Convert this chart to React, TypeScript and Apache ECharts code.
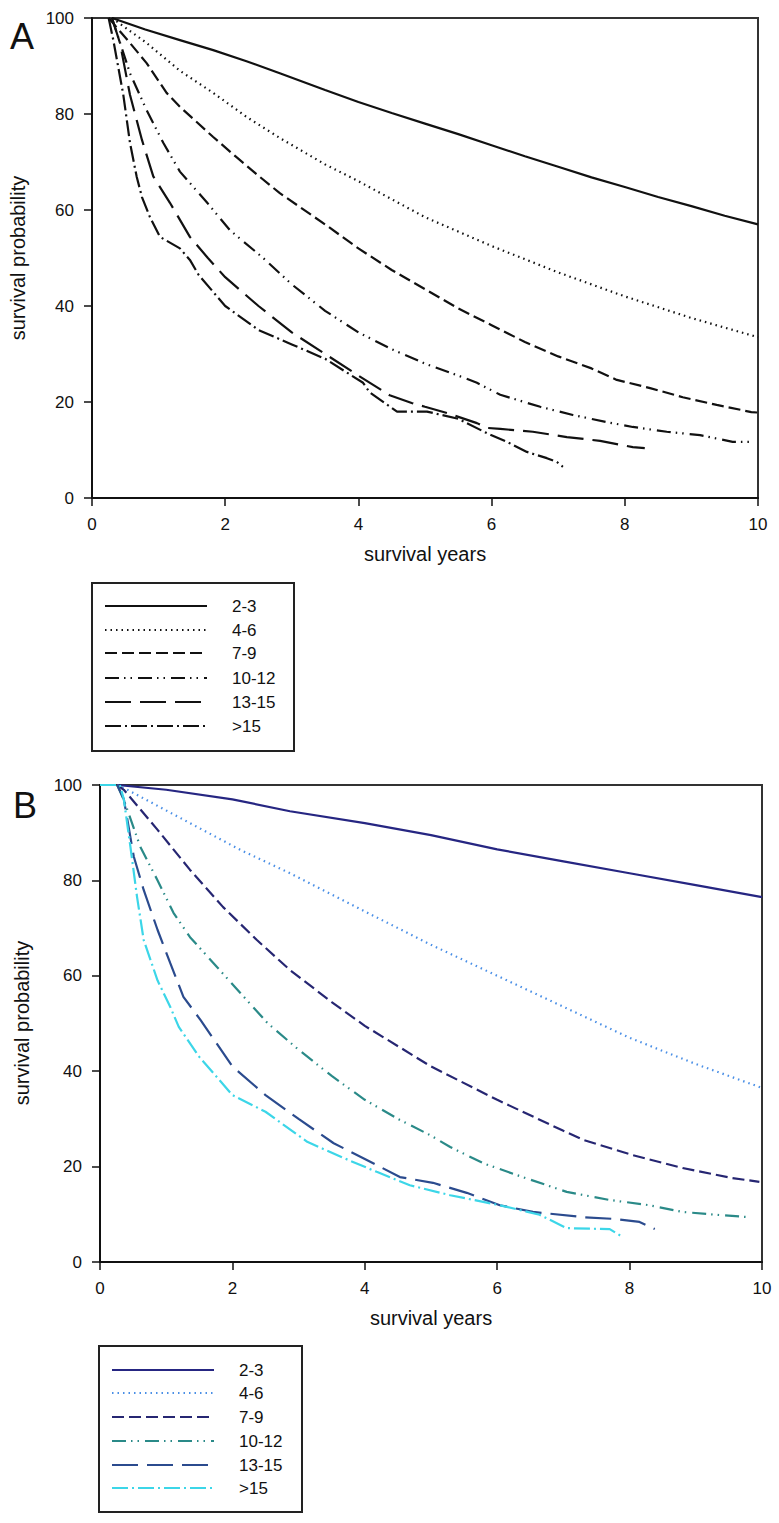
import React, { useEffect, useRef } from "react";
import * as echarts from "echarts";

const groupNames = ["2-3", "4-6", "7-9", "10-12", "13-15", ">15"];
const xTickInterval = 2;
const yTickInterval = 20;

// Panel A (years, survival %)
const a23 = [[0.3,100],[0.8,97.6],[1.32,95.4],[1.82,93.3],[2.32,91],[2.82,88.5],[3.5,85],[4,82.5],[4.5,80.2],[5,78],[5.5,75.8],[6,73.5],[6.5,71.2],[7,69],[7.5,66.8],[8,64.8],[8.5,62.7],[9,60.8],[9.5,58.8],[10,57]];
const a46 = [[0.3,100],[0.82,94.8],[1.32,89],[1.82,84.4],[2.32,79.4],[2.82,75],[3.5,69.5],[4,66],[5,58.5],[6,52.5],[7,47],[8,42],[9,37.5],[10,33.5]];
const a79 = [[0.25,100],[0.57,94.8],[0.82,90.6],[1.12,84.4],[1.32,81.5],[1.82,75.2],[2.17,71],[2.52,66.9],[2.82,63.5],[3.5,57],[4,52],[4.5,47.5],[5,43.5],[5.5,39.5],[6,36],[6.5,32.5],[7,29.5],[7.5,27],[7.88,24.6],[8.38,22.9],[8.87,21],[9.38,19.4],[9.9,17.9],[10,17.8]];
const a1012 = [[0.3,100],[0.57,88.5],[0.82,80.8],[1.07,74],[1.32,68],[1.73,61.5],[2.07,55.8],[2.57,50],[3,44.5],[3.5,39],[4,34.5],[4.5,31],[5,28],[5.5,25.5],[5.78,24],[6.13,21.5],[6.73,19],[7.22,17.3],[7.73,15.8],[8.12,14.8],[8.63,13.8],[9.13,13.1],[9.62,11.7],[9.9,11.7]];
const a1315 = [[0.3,100],[0.42,94.8],[0.57,84],[0.75,74.6],[0.92,67],[1.17,61.5],[1.47,54.4],[1.74,50],[2,46],[2.5,40],[3,34.5],[3.5,30],[4,25.5],[4.47,21.4],[4.8,19.8],[5,19],[5.33,17.7],[5.78,15.6],[5.93,14.6],[6.13,14.4],[6.62,13.8],[7.13,12.7],[7.63,11.9],[8.12,10.6],[8.3,10.4]];
const a15 = [[0.25,100],[0.32,95.4],[0.47,84],[0.57,74],[0.67,67],[0.75,62.7],[0.87,58.5],[1.02,54.4],[1.32,52],[1.47,49.6],[1.6,46.5],[2,40],[2.5,35],[3,32],[3.5,29],[4.07,24],[4.17,22],[4.58,18],[5.03,18],[5.5,16.5],[5.93,13.5],[6.23,11.7],[6.53,9.6],[6.83,8.3],[6.98,7.5],[7.07,6.5]];

// Panel B
const b23 = [[0.26,100],[1,99],[2,97],[2.87,94.5],[4,92],[5,89.5],[6,86.5],[7,84],[8,81.5],[9,79],[10,76.5]];
const b46 = [[0.26,100],[0.36,99.4],[1.36,92],[2.12,86.4],[2.87,81.5],[4,73.5],[5,66.5],[6,60],[7,53.5],[8,47],[9,41.5],[10,36.5]];
const b79 = [[0.26,100],[0.36,99],[0.87,90.6],[1.36,82.2],[1.86,74.4],[2.37,67.5],[2.87,61.2],[3.5,54.5],[4,49.5],[5,41],[6,34],[7,27.5],[7.3,25.6],[8.05,22.4],[8.8,19.7],[9.55,17.6],[9.96,16.8]];
const b1012 = [[0.26,100],[0.36,96.9],[0.61,87],[0.87,80],[1.11,73.2],[1.36,68.1],[1.77,61.8],[2.12,56.4],[2.53,50.1],[3,44.5],[3.5,39],[4,34],[4.5,30],[5,26.5],[5.29,24.1],[5.79,20.7],[6.3,18.2],[7.05,14.7],[7.7,13],[8.3,11.9],[8.8,10.5],[9.3,9.9],[9.8,9.4]];
const b1315 = [[0.26,100],[0.36,97],[0.51,85],[0.66,78],[0.87,69.6],[1.06,62.7],[1.26,55.6],[1.52,50.7],[2,41],[2.5,35],[3,30],[3.53,24.9],[4.03,21.4],[4.53,17.8],[5.03,16.6],[5.54,14.5],[6.04,11.9],[6.54,10.5],[7.3,9.4],[7.8,9],[8.15,8.4],[8.38,6.9]];
const b15 = [[0,100],[0.3,100],[0.36,97],[0.46,87],[0.56,76.5],[0.66,67.5],[0.87,59],[1.06,53.5],[1.19,49.3],[1.5,43],[2,35],[2.5,31.5],[3.13,25.2],[3.68,21.8],[4.18,18.9],[4.68,16.1],[5.29,14],[6.04,11.9],[6.64,9.9],[7.05,7.1],[7.7,6.9],[7.9,5.2]];

const dashes: any[] = ["solid", [1.5, 4], [12, 5], [14, 5, 1.5, 5, 1.5, 6], [26, 9], [16, 4, 2, 4]];
const colorsA = ["#111", "#111", "#111", "#111", "#111", "#111"];
const colorsB = ["#262682", "#4a8fe6", "#262672", "#2a8a88", "#2b4b8e", "#3cd6e8"];

const FONT = "'Liberation Sans', Arial, sans-serif";

export default function App() {
  const ref = useRef<HTMLDivElement>(null);
  useEffect(() => {
    document.body.style.margin = "0";
    const chart = echarts.init(ref.current!, null, { renderer: "svg" });
    const dataA = [a23, a46, a79, a1012, a1315, a15];
    const dataB = [b23, b46, b79, b1012, b1315, b15];

    const mkX = (gi: number) => ({
      type: "value", gridIndex: gi, min: 0, max: 10, interval: xTickInterval,
      axisLine: { show: true, onZero: false, lineStyle: { color: "#111", width: 2 } },
      axisTick: { show: true, inside: false, length: 8, lineStyle: { color: "#111", width: 1.5 } },
      axisLabel: { fontSize: 17, color: "#111", margin: 18, fontFamily: FONT },
      splitLine: { show: false },
    });
    const mkY = (gi: number) => ({
      type: "value", gridIndex: gi, min: 0, max: 100, interval: yTickInterval,
      axisLine: { show: true, onZero: false, lineStyle: { color: "#111", width: 2 } },
      axisTick: { show: true, inside: false, length: 8, lineStyle: { color: "#111", width: 1.5 } },
      axisLabel: { fontSize: 17, color: "#111", margin: 18, fontFamily: FONT },
      splitLine: { show: false },
    });

    const series: any[] = [];
    dataA.forEach((d, i) => series.push({
      type: "line", name: "A " + groupNames[i], xAxisIndex: 0, yAxisIndex: 0, data: d,
      symbol: "none", showSymbol: false, silent: true,
      lineStyle: { color: colorsA[i], width: 2.2, type: dashes[i] },
    }));
    dataB.forEach((d, i) => series.push({
      type: "line", name: "B " + groupNames[i], xAxisIndex: 1, yAxisIndex: 1, data: d,
      symbol: "none", showSymbol: false, silent: true,
      lineStyle: { color: colorsB[i], width: 2.2, type: dashes[i] },
    }));

    const legend = (bx: number, by: number, bw: number, bh: number, rows: number[], lx1: number, lx2: number, tx: number, colors: string[]) => {
      const els: any[] = [{
        type: "rect", shape: { x: bx, y: by, width: bw, height: bh },
        style: { fill: "none", stroke: "#222", lineWidth: 2 },
      }];
      groupNames.forEach((n, i) => {
        els.push({
          type: "line", shape: { x1: lx1, y1: rows[i], x2: lx2, y2: rows[i] },
          style: { stroke: colors[i], lineWidth: 2.2, lineDash: dashes[i] === "solid" ? null : dashes[i] },
        });
        els.push({
          type: "text", x: tx, y: rows[i],
          style: { text: n, fontSize: 17, fill: "#111", fontFamily: FONT, align: "left", verticalAlign: "middle" },
        });
      });
      return els;
    };

    const graphic: any[] = [
      { type: "text", x: 10, y: 36, style: { text: "A", fontSize: 36, fill: "#111", fontFamily: FONT, verticalAlign: "middle" } },
      { type: "text", x: 13, y: 805, style: { text: "B", fontSize: 36, fill: "#111", fontFamily: FONT, verticalAlign: "middle" } },
      { type: "text", x: 425, y: 554, style: { text: "survival years", fontSize: 20, fill: "#111", fontFamily: FONT, align: "center", verticalAlign: "middle" } },
      { type: "text", x: 431, y: 1318, style: { text: "survival years", fontSize: 20, fill: "#111", fontFamily: FONT, align: "center", verticalAlign: "middle" } },
      { type: "text", x: 18, y: 258, rotation: Math.PI / 2, style: { text: "survival probability", fontSize: 20, fill: "#111", fontFamily: FONT, align: "center", verticalAlign: "middle" } },
      { type: "text", x: 22, y: 1023, rotation: Math.PI / 2, style: { text: "survival probability", fontSize: 20, fill: "#111", fontFamily: FONT, align: "center", verticalAlign: "middle" } },
      ...legend(92, 583, 202, 168, [606, 630, 653, 678, 702, 726], 105, 207, 232, colorsA),
      ...legend(99, 1346, 203, 166, [1370, 1393, 1417, 1441, 1465, 1488], 112, 214, 239, colorsB),
    ];

    chart.setOption({
      animation: false,
      backgroundColor: "#fff",
      grid: [
        { left: 92, top: 18, width: 666, height: 480, show: true, borderColor: "#333", borderWidth: 2, backgroundColor: "transparent" },
        { left: 100, top: 785, width: 662, height: 477, show: true, borderColor: "#333", borderWidth: 2, backgroundColor: "transparent" },
      ],
      xAxis: [mkX(0), mkX(1)],
      yAxis: [mkY(0), mkY(1)],
      series,
      graphic,
    });
    return () => chart.dispose();
  }, []);
  return <div ref={ref} style={{ position: "absolute", left: 0, top: 0, width: 779, height: 1523 }} />;
}
